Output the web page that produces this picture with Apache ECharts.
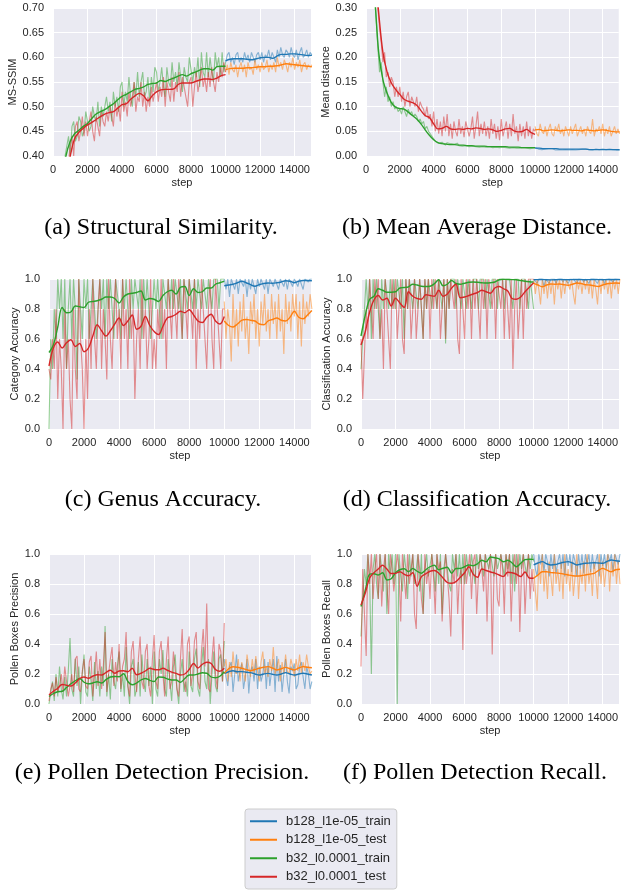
<!DOCTYPE html>
<html>
<head>
<meta charset="utf-8">
<script src="https://cdn.jsdelivr.net/npm/echarts@6.0.0/dist/echarts.min.js"></script>
<style>
  html, body { margin: 0; padding: 0; background: #fff; }
  #chart { width: 621px; height: 890px; }
</style>
</head>
<body>
<div id="chart"></div>
<script>
// series names (legend)
const names = ['b128_l1e-05_train', 'b128_l1e-05_test', 'b32_l0.0001_train', 'b32_l0.0001_test'];
// raw values logged every 100 steps, smoothed values every 250 steps
// b32 run: steps 0..10000, b128 run: steps 10000..15000

// ---- (a) MS-SSIM ----
const aGreenRaw = [0.18, 0.21, 0.25, 0.28, 0.31, 0.34, 0.37, 0.40, 0.42, 0.44,
  0.40, 0.46, 0.47, 0.43, 0.44, 0.48, 0.47, 0.44, 0.45, 0.49,
  0.49, 0.45, 0.46, 0.50, 0.48, 0.47, 0.51, 0.46, 0.50, 0.48,
  0.48, 0.52, 0.49, 0.51, 0.47, 0.53, 0.50, 0.52, 0.49, 0.54,
  0.55, 0.50, 0.53, 0.51, 0.56, 0.52, 0.50, 0.55, 0.52, 0.57,
  0.52, 0.55, 0.57, 0.52, 0.53, 0.56, 0.51, 0.56, 0.53, 0.58,
  0.57, 0.53, 0.55, 0.58, 0.54, 0.52, 0.58, 0.55, 0.54, 0.59,
  0.55, 0.57, 0.54, 0.59, 0.56, 0.53, 0.58, 0.56, 0.55, 0.60,
  0.60, 0.55, 0.58, 0.56, 0.60, 0.54, 0.61, 0.57, 0.56, 0.61,
  0.56, 0.60, 0.57, 0.55, 0.61, 0.58, 0.60, 0.56, 0.61, 0.57, 0.59];
const aRedRaw = [0.15, 0.18, 0.20, 0.23, 0.26, 0.29, 0.32, 0.34, 0.36, 0.39,
  0.42, 0.44, 0.40, 0.46, 0.47, 0.43, 0.45, 0.48, 0.44, 0.47,
  0.44, 0.47, 0.49, 0.45, 0.43, 0.48, 0.46, 0.44, 0.49, 0.47,
  0.46, 0.49, 0.47, 0.50, 0.48, 0.46, 0.51, 0.48, 0.50, 0.47,
  0.53, 0.49, 0.51, 0.48, 0.53, 0.50, 0.52, 0.55, 0.49, 0.52,
  0.51, 0.55, 0.50, 0.53, 0.49, 0.52, 0.50, 0.54, 0.51, 0.53,
  0.55, 0.51, 0.54, 0.52, 0.56, 0.50, 0.55, 0.53, 0.51, 0.56,
  0.51, 0.55, 0.53, 0.57, 0.52, 0.56, 0.54, 0.52, 0.50, 0.55,
  0.56, 0.50, 0.54, 0.57, 0.53, 0.55, 0.58, 0.54, 0.56, 0.53,
  0.57, 0.54, 0.58, 0.55, 0.53, 0.57, 0.55, 0.58, 0.56, 0.59, 0.57];
const aBlueRaw = [0.59, 0.605, 0.61, 0.59, 0.60, 0.585, 0.605, 0.61, 0.59, 0.60,
  0.59, 0.61, 0.595, 0.605, 0.59, 0.61, 0.60, 0.59, 0.605, 0.61,
  0.595, 0.61, 0.59, 0.605, 0.60, 0.615, 0.595, 0.61, 0.60, 0.59,
  0.615, 0.60, 0.62, 0.605, 0.60, 0.615, 0.61, 0.60, 0.62, 0.605,
  0.60, 0.615, 0.595, 0.61, 0.62, 0.60, 0.605, 0.615, 0.60, 0.61, 0.605];
const aOrangeRaw = [0.57, 0.585, 0.565, 0.59, 0.575, 0.57, 0.585, 0.56, 0.58, 0.59,
  0.57, 0.585, 0.56, 0.59, 0.575, 0.58, 0.565, 0.595, 0.575, 0.585,
  0.57, 0.59, 0.575, 0.58, 0.595, 0.57, 0.585, 0.575, 0.59, 0.57,
  0.60, 0.58, 0.59, 0.575, 0.595, 0.585, 0.57, 0.59, 0.58, 0.60,
  0.575, 0.59, 0.58, 0.595, 0.57, 0.585, 0.59, 0.575, 0.585, 0.58, 0.585];
const aGreenSm = [0.20, 0.27, 0.34, 0.40, 0.43, 0.445, 0.452, 0.46, 0.466, 0.476,
  0.485, 0.49, 0.494, 0.50, 0.506, 0.514, 0.521, 0.525, 0.53, 0.535,
  0.537, 0.54, 0.545, 0.547, 0.548, 0.553, 0.551, 0.555, 0.558, 0.562,
  0.565, 0.562, 0.567, 0.570, 0.574, 0.577, 0.577, 0.574, 0.581, 0.582, 0.582];
const aRedSm = [0.15, 0.22, 0.29, 0.35, 0.40, 0.435, 0.448, 0.456, 0.463, 0.468,
  0.474, 0.48, 0.485, 0.488, 0.49, 0.497, 0.504, 0.506, 0.515, 0.522,
  0.527, 0.522, 0.512, 0.522, 0.53, 0.534, 0.535, 0.535, 0.536, 0.545,
  0.548, 0.548, 0.548, 0.551, 0.554, 0.556, 0.556, 0.555, 0.558, 0.563, 0.565];
const aBlueSm = [0.593, 0.596, 0.597, 0.597, 0.597, 0.596, 0.595, 0.597, 0.599, 0.600, 0.600,
  0.598, 0.603, 0.606, 0.606, 0.607, 0.607, 0.606, 0.605, 0.604, 0.604];
const aOrangeSm = [0.575, 0.577, 0.578, 0.578, 0.578, 0.579, 0.579, 0.580, 0.581, 0.581, 0.582,
  0.582, 0.583, 0.585, 0.587, 0.586, 0.585, 0.584, 0.583, 0.582, 0.581];

// ---- (b) Mean distance ----
const bGreenRaw = [0.50, 0.47, 0.44, 0.40, 0.36, 0.32, 0.28, 0.22, 0.17, 0.19,
  0.15, 0.12, 0.14, 0.11, 0.12, 0.10, 0.11, 0.095, 0.10, 0.09,
  0.095, 0.085, 0.10, 0.09, 0.08, 0.095, 0.085, 0.09, 0.08, 0.085,
  0.08, 0.07, 0.075, 0.065, 0.07, 0.055, 0.06, 0.05, 0.045, 0.04,
  0.035, 0.03, 0.028, 0.026, 0.024, 0.028, 0.025, 0.022, 0.027, 0.023,
  0.025, 0.021, 0.024, 0.022, 0.026, 0.021, 0.023, 0.02, 0.024, 0.021,
  0.022, 0.019, 0.023, 0.02, 0.022, 0.019, 0.021, 0.018, 0.022, 0.019,
  0.021, 0.018, 0.02, 0.019, 0.021, 0.017, 0.02, 0.018, 0.021, 0.017,
  0.019, 0.018, 0.02, 0.017, 0.019, 0.016, 0.02, 0.017, 0.018, 0.016,
  0.019, 0.016, 0.018, 0.017, 0.019, 0.016, 0.018, 0.015, 0.018, 0.016, 0.016];
const bRedRaw = [0.55, 0.52, 0.48, 0.45, 0.41, 0.37, 0.34, 0.30, 0.26, 0.23,
  0.19, 0.21, 0.16, 0.17, 0.14, 0.16, 0.15, 0.12, 0.14, 0.12,
  0.14, 0.11, 0.13, 0.10, 0.12, 0.13, 0.10, 0.12, 0.11, 0.10,
  0.12, 0.09, 0.11, 0.10, 0.095, 0.08, 0.10, 0.075, 0.085, 0.06,
  0.09, 0.05, 0.075, 0.045, 0.07, 0.04, 0.08, 0.05, 0.085, 0.04,
  0.065, 0.035, 0.07, 0.05, 0.04, 0.075, 0.045, 0.06, 0.038, 0.07,
  0.07, 0.04, 0.055, 0.08, 0.035, 0.06, 0.09, 0.04, 0.065, 0.045,
  0.07, 0.04, 0.06, 0.035, 0.075, 0.045, 0.065, 0.035, 0.06, 0.032,
  0.075, 0.04, 0.055, 0.07, 0.035, 0.065, 0.04, 0.085, 0.045, 0.06,
  0.03, 0.065, 0.04, 0.06, 0.035, 0.07, 0.04, 0.06, 0.035, 0.055, 0.05];
const bBlueRaw = [0.017, 0.015, 0.014, 0.016, 0.013, 0.016, 0.014, 0.013, 0.015, 0.013,
  0.015, 0.014, 0.012, 0.015, 0.013, 0.014, 0.012, 0.015, 0.013, 0.014,
  0.012, 0.014, 0.013, 0.015, 0.012, 0.014, 0.013, 0.012, 0.014, 0.012,
  0.014, 0.011, 0.013, 0.014, 0.012, 0.013, 0.014, 0.011, 0.013, 0.012,
  0.014, 0.012, 0.013, 0.011, 0.014, 0.012, 0.013, 0.014, 0.012, 0.013, 0.012];
const bOrangeRaw = [0.06, 0.045, 0.04, 0.065, 0.05, 0.045, 0.06, 0.04, 0.055, 0.065,
  0.045, 0.04, 0.06, 0.05, 0.065, 0.045, 0.055, 0.04, 0.06, 0.05,
  0.04, 0.06, 0.045, 0.055, 0.065, 0.04, 0.05, 0.06, 0.045, 0.055,
  0.04, 0.06, 0.05, 0.045, 0.075, 0.04, 0.055, 0.05, 0.06, 0.045,
  0.065, 0.04, 0.055, 0.045, 0.06, 0.04, 0.05, 0.06, 0.045, 0.055, 0.045];
const bGreenSm = [0.50, 0.42, 0.33, 0.21, 0.155, 0.127, 0.108, 0.099, 0.096, 0.095,
  0.089, 0.082, 0.075, 0.065, 0.053, 0.042, 0.033, 0.027, 0.025, 0.024,
  0.023, 0.023, 0.022, 0.022, 0.021, 0.021, 0.020, 0.020, 0.020, 0.019,
  0.019, 0.019, 0.019, 0.019, 0.018, 0.018, 0.018, 0.017, 0.017, 0.017, 0.017];
const bRedSm = [0.55, 0.47, 0.38, 0.29, 0.21, 0.17, 0.148, 0.135, 0.125, 0.115,
  0.111, 0.108, 0.103, 0.092, 0.082, 0.078, 0.065, 0.055, 0.056, 0.060,
  0.055, 0.054, 0.055, 0.054, 0.056, 0.055, 0.057, 0.056, 0.054, 0.055,
  0.053, 0.050, 0.052, 0.055, 0.056, 0.051, 0.049, 0.050, 0.054, 0.048, 0.044];
const bBlueSm = [0.016, 0.016, 0.015, 0.015, 0.015, 0.015, 0.014, 0.014, 0.014, 0.014, 0.014,
  0.014, 0.014, 0.013, 0.013, 0.013, 0.013, 0.013, 0.013, 0.013, 0.013];
const bOrangeSm = [0.053, 0.054, 0.051, 0.052, 0.053, 0.052, 0.051, 0.052, 0.053, 0.052, 0.052,
  0.051, 0.053, 0.052, 0.051, 0.052, 0.053, 0.052, 0.050, 0.049, 0.049];

// ---- (c) Category accuracy ----
const cGreenRaw = [0.0, 0.6, 0.4, 0.8, 0.6, 1.0, 0.8, 1.0, 0.6, 1.0,
  0.4, 0.8, 1.0, 0.6, 1.0, 0.8, 0.33, 1.0, 0.8, 0.6,
  1.0, 0.8, 1.0, 0.6, 0.8, 1.0, 1.0, 0.6, 0.8, 1.0,
  0.8, 1.0, 0.6, 1.0, 0.8, 1.0, 0.8, 0.6, 1.0, 1.0,
  0.8, 0.6, 1.0, 0.8, 1.0, 1.0, 0.6, 1.0, 0.8, 1.0,
  1.0, 0.8, 1.0, 0.6, 1.0, 0.8, 1.0, 1.0, 0.6, 0.8,
  1.0, 0.8, 1.0, 0.8, 0.6, 1.0, 1.0, 0.8, 1.0, 0.8,
  1.0, 0.8, 1.0, 1.0, 0.8, 1.0, 0.6, 1.0, 1.0, 0.8,
  1.0, 1.0, 0.8, 1.0, 0.8, 1.0, 1.0, 0.8, 1.0, 1.0,
  0.8, 1.0, 1.0, 0.8, 1.0, 1.0, 1.0, 0.8, 1.0, 1.0, 1.0];
const cRedRaw = [0.4, 0.33, 0.6, 0.4, 0.8, 0.2, 0.6, 0.4, 0.0, 0.8,
  0.4, 0.6, 0.2, 0.0, 0.8, 0.4, 0.2, 1.0, 0.6, 0.4,
  0.0, 0.6, 0.2, 0.8, 0.4, 1.0, 0.6, 0.4, 0.8, 1.0,
  0.4, 0.8, 0.6, 0.33, 1.0, 0.6, 0.4, 0.8, 1.0, 0.6,
  0.8, 0.4, 1.0, 0.6, 0.8, 0.4, 1.0, 0.6, 0.8, 0.2,
  0.6, 0.8, 0.4, 1.0, 0.6, 0.8, 0.4, 0.6, 1.0, 0.4,
  0.6, 0.4, 0.8, 0.6, 1.0, 0.6, 0.8, 0.4, 1.0, 0.8,
  0.6, 1.0, 0.8, 0.6, 1.0, 0.8, 0.6, 1.0, 0.8, 0.6,
  1.0, 0.8, 0.6, 1.0, 0.4, 0.8, 0.6, 1.0, 0.8, 0.6,
  0.4, 0.8, 1.0, 0.6, 0.4, 1.0, 0.8, 0.6, 0.4, 0.8, 0.8];
const cBlueRaw = [1.0, 0.93, 1.0, 0.88, 1.0, 1.0, 0.93, 1.0, 0.9, 1.0,
  1.0, 0.95, 1.0, 0.88, 1.0, 0.93, 1.0, 1.0, 0.9, 1.0,
  0.95, 1.0, 1.0, 0.93, 1.0, 0.9, 1.0, 1.0, 0.95, 1.0,
  1.0, 0.93, 1.0, 1.0, 0.95, 1.0, 0.93, 1.0, 1.0, 0.95,
  1.0, 1.0, 0.95, 1.0, 1.0, 0.93, 1.0, 1.0, 0.98, 1.0, 1.0];
const cOrangeRaw = [0.85, 0.6, 0.8, 0.7, 0.45, 0.9, 0.6, 0.8, 0.55, 0.85,
  0.65, 0.9, 0.6, 0.75, 0.5, 0.85, 0.7, 0.9, 0.6, 0.8,
  0.55, 0.85, 0.7, 0.9, 0.65, 0.8, 0.6, 0.9, 0.7, 0.85,
  0.6, 0.9, 0.65, 0.8, 0.5, 0.9, 0.7, 0.85, 0.65, 0.9,
  0.75, 0.9, 0.6, 0.85, 0.55, 0.9, 0.7, 0.85, 0.75, 0.9, 0.8];
const cGreenSm = [0.51, 0.56, 0.68, 0.81, 0.775, 0.78, 0.82, 0.815, 0.81, 0.845,
  0.85, 0.855, 0.865, 0.88, 0.88, 0.87, 0.84, 0.88, 0.90, 0.905,
  0.91, 0.92, 0.86, 0.87, 0.865, 0.85, 0.89, 0.915, 0.925, 0.90,
  0.945, 0.95, 0.89, 0.935, 0.91, 0.915, 0.94, 0.94, 0.965, 0.975, 0.985];
const cRedSm = [0.42, 0.54, 0.58, 0.54, 0.575, 0.595, 0.55, 0.57, 0.515, 0.54,
  0.62, 0.695, 0.655, 0.62, 0.655, 0.70, 0.74, 0.69, 0.72, 0.76,
  0.665, 0.685, 0.75, 0.69, 0.65, 0.63, 0.685, 0.74, 0.75, 0.765,
  0.785, 0.775, 0.795, 0.76, 0.72, 0.71, 0.745, 0.765, 0.72, 0.70, 0.75];
const cBlueSm = [0.955, 0.96, 0.965, 0.975, 0.985, 0.975, 0.962, 0.952, 0.962, 0.97, 0.973,
  0.972, 0.975, 0.98, 0.988, 0.985, 0.975, 0.985, 0.99, 0.99, 0.988];
const cOrangeSm = [0.72, 0.69, 0.68, 0.70, 0.725, 0.73, 0.725, 0.72, 0.70, 0.695, 0.72,
  0.73, 0.74, 0.725, 0.72, 0.745, 0.785, 0.745, 0.735, 0.76, 0.79];

// ---- (d) Classification accuracy ----
const dGreenRaw = [0.4, 0.6, 0.8, 1.0, 0.8, 1.0, 0.6, 1.0, 0.8, 1.0,
  1.0, 0.6, 1.0, 0.8, 1.0, 1.0, 0.8, 1.0, 0.8, 1.0,
  0.8, 1.0, 1.0, 0.8, 1.0, 0.6, 1.0, 0.8, 1.0, 1.0,
  0.8, 1.0, 1.0, 0.8, 1.0, 1.0, 0.6, 1.0, 0.8, 1.0,
  1.0, 0.8, 1.0, 1.0, 0.8, 1.0, 1.0, 0.8, 1.0, 0.57,
  1.0, 0.8, 1.0, 1.0, 1.0, 0.8, 1.0, 1.0, 0.8, 1.0,
  1.0, 0.8, 1.0, 1.0, 0.8, 1.0, 1.0, 1.0, 0.8, 1.0,
  1.0, 1.0, 0.8, 1.0, 1.0, 0.8, 1.0, 1.0, 1.0, 0.8,
  1.0, 1.0, 1.0, 0.8, 1.0, 1.0, 1.0, 1.0, 0.8, 1.0,
  1.0, 1.0, 0.8, 1.0, 1.0, 1.0, 1.0, 0.8, 1.0, 1.0, 0.8];
const dRedRaw = [0.6, 0.2, 0.2, 0.8, 0.6, 1.0, 0.8, 0.6, 1.0, 0.8,
  1.0, 0.6, 0.8, 0.4, 1.0, 0.8, 0.6, 0.4, 1.0, 0.8,
  1.0, 0.6, 0.8, 1.0, 0.6, 0.5, 1.0, 0.8, 1.0, 0.6,
  0.8, 1.0, 0.6, 0.8, 1.0, 0.8, 0.6, 1.0, 0.8, 1.0,
  0.6, 1.0, 0.8, 1.0, 0.8, 1.0, 0.6, 0.8, 1.0, 0.6,
  1.0, 0.8, 1.0, 1.0, 0.8, 1.0, 0.6, 0.5, 1.0, 0.8,
  0.6, 1.0, 0.8, 1.0, 0.6, 1.0, 0.8, 1.0, 0.8, 0.6,
  1.0, 0.8, 1.0, 0.6, 1.0, 1.0, 0.8, 1.0, 0.6, 1.0,
  1.0, 0.8, 1.0, 0.6, 1.0, 0.8, 0.6, 1.0, 0.4, 0.8,
  1.0, 0.6, 0.8, 1.0, 0.6, 1.0, 0.8, 1.0, 1.0, 1.0, 1.0];
const dBlueRaw = [1.0, 1.0, 0.97, 1.0, 1.0, 1.0, 0.95, 1.0, 1.0, 0.97,
  1.0, 1.0, 1.0, 0.97, 1.0, 1.0, 1.0, 0.98, 1.0, 1.0,
  0.97, 1.0, 1.0, 1.0, 1.0, 0.97, 1.0, 1.0, 1.0, 0.98,
  1.0, 1.0, 0.97, 1.0, 1.0, 1.0, 1.0, 0.97, 1.0, 1.0,
  1.0, 0.97, 1.0, 1.0, 1.0, 1.0, 0.98, 1.0, 1.0, 1.0, 1.0];
const dOrangeRaw = [1.0, 0.9, 1.0, 0.93, 0.83, 1.0, 0.9, 1.0, 0.87, 1.0,
  0.9, 1.0, 0.83, 1.0, 0.93, 1.0, 0.87, 1.0, 0.9, 1.0,
  1.0, 0.93, 1.0, 0.9, 0.83, 1.0, 0.93, 1.0, 0.9, 1.0,
  0.93, 1.0, 0.9, 1.0, 0.87, 1.0, 0.93, 0.83, 1.0, 0.9,
  1.0, 0.93, 1.0, 0.9, 1.0, 0.87, 1.0, 0.93, 1.0, 0.9, 1.0];
const dGreenSm = [0.62, 0.76, 0.865, 0.885, 0.935, 0.925, 0.912, 0.912, 0.915, 0.94,
  0.943, 0.948, 0.965, 0.96, 0.952, 0.95, 0.952, 0.968, 0.995, 0.955,
  0.965, 0.99, 0.97, 0.965, 0.972, 0.978, 0.98, 0.978, 0.975, 0.973,
  0.975, 0.98, 0.995, 0.998, 0.997, 0.996, 0.995, 0.99, 0.985, 0.982, 0.98];
const dRedSm = [0.56, 0.65, 0.78, 0.86, 0.89, 0.86, 0.872, 0.82, 0.872, 0.84,
  0.81, 0.915, 0.885, 0.87, 0.865, 0.895, 0.89, 0.885, 0.925, 0.885,
  0.90, 0.94, 0.965, 0.875, 0.88, 0.89, 0.90, 0.91, 0.925, 0.915,
  0.905, 0.94, 0.95, 0.935, 0.92, 0.87, 0.865, 0.88, 0.915, 0.945, 0.975];
const dBlueSm = [0.995, 0.996, 0.997, 0.995, 0.994, 0.995, 0.997, 0.996, 0.995, 0.996, 0.997,
  0.996, 0.995, 0.996, 0.997, 0.996, 0.995, 0.996, 0.997, 0.997, 0.996];
const dOrangeSm = [0.973, 0.96, 0.948, 0.96, 0.967, 0.965, 0.967, 0.962, 0.958, 0.965, 0.973,
  0.97, 0.962, 0.96, 0.955, 0.95, 0.96, 0.968, 0.972, 0.973, 0.972];

// ---- (e) Pollen boxes precision ----
const eGreenRaw = [0.0, 0.08, 0.15, 0.02, 0.2, 0.05, 0.25, 0.1, 0.03, 0.18,
  0.05, 0.22, 0.44, 0.1, 0.05, 0.3, 0.12, 0.25, 0.0, 0.2,
  0.33, 0.08, 0.05, 0.25, 0.15, 0.02, 0.28, 0.1, 0.22, 0.05,
  0.25, 0.12, 0.52, 0.05, 0.2, 0.03, 0.3, 0.15, 0.1, 0.25,
  0.35, 0.08, 0.2, 0.05, 0.38, 0.12, 0.0, 0.25, 0.3, 0.05,
  0.1, 0.28, 0.05, 0.33, 0.15, 0.08, 0.3, 0.12, 0.25, 0.0,
  0.35, 0.1, 0.05, 0.3, 0.2, 0.36, 0.1, 0.05, 0.3, 0.15,
  0.02, 0.25, 0.33, 0.1, 0.0, 0.2, 0.3, 0.08, 0.15, 0.05,
  0.35, 0.12, 0.08, 0.3, 0.37, 0.1, 0.05, 0.25, 0.38, 0.15,
  0.1, 0.3, 0.0, 0.2, 0.35, 0.12, 0.08, 0.3, 0.33, 0.15, 0.42];
const eRedRaw = [0.02, 0.1, 0.14, 0.05, 0.18, 0.08, 0.12, 0.2, 0.08, 0.25,
  0.25, 0.05, 0.12, 0.2, 0.08, 0.3, 0.32, 0.1, 0.08, 0.22,
  0.3, 0.12, 0.1, 0.28, 0.32, 0.05, 0.2, 0.35, 0.12, 0.3,
  0.1, 0.25, 0.48, 0.08, 0.2, 0.3, 0.38, 0.12, 0.28, 0.15,
  0.4, 0.1, 0.25, 0.3, 0.48, 0.12, 0.05, 0.35, 0.42, 0.2,
  0.08, 0.3, 0.45, 0.15, 0.1, 0.35, 0.4, 0.12, 0.05, 0.3,
  0.46, 0.15, 0.1, 0.35, 0.42, 0.2, 0.05, 0.3, 0.45, 0.1,
  0.15, 0.35, 0.36, 0.1, 0.05, 0.3, 0.5, 0.15, 0.08, 0.4,
  0.45, 0.12, 0.2, 0.42, 0.48, 0.15, 0.1, 0.35, 0.5, 0.25,
  0.67, 0.1, 0.08, 0.3, 0.45, 0.2, 0.1, 0.4, 0.35, 0.15, 0.54];
const eBlueRaw = [0.3, 0.18, 0.12, 0.25, 0.28, 0.08, 0.2, 0.33, 0.15, 0.22,
  0.27, 0.1, 0.18, 0.3, 0.07, 0.22, 0.25, 0.15, 0.3, 0.1,
  0.25, 0.15, 0.2, 0.3, 0.1, 0.28, 0.12, 0.22, 0.3, 0.08,
  0.32, 0.15, 0.26, 0.08, 0.2, 0.3, 0.15, 0.07, 0.25, 0.22,
  0.27, 0.1, 0.13, 0.25, 0.28, 0.18, 0.1, 0.25, 0.2, 0.1, 0.15];
const eOrangeRaw = [0.25, 0.3, 0.15, 0.28, 0.18, 0.35, 0.22, 0.2, 0.3, 0.15,
  0.28, 0.22, 0.15, 0.33, 0.25, 0.18, 0.3, 0.2, 0.32, 0.22,
  0.15, 0.28, 0.35, 0.2, 0.25, 0.18, 0.3, 0.22, 0.38, 0.2,
  0.25, 0.3, 0.15, 0.28, 0.2, 0.33, 0.22, 0.2, 0.3, 0.25,
  0.18, 0.3, 0.22, 0.33, 0.2, 0.28, 0.22, 0.33, 0.25, 0.2, 0.22];
const eGreenSm = [0.05, 0.07, 0.082, 0.085, 0.11, 0.135, 0.155, 0.17, 0.145, 0.135,
  0.14, 0.148, 0.14, 0.162, 0.18, 0.183, 0.182, 0.202, 0.15, 0.128,
  0.14, 0.16, 0.17, 0.158, 0.15, 0.18, 0.178, 0.168, 0.16, 0.16,
  0.145, 0.17, 0.193, 0.193, 0.2, 0.208, 0.205, 0.18, 0.175, 0.185, 0.215];
const eRedSm = [0.06, 0.085, 0.105, 0.13, 0.125, 0.12, 0.14, 0.17, 0.18, 0.172,
  0.185, 0.195, 0.193, 0.21, 0.225, 0.205, 0.22, 0.222, 0.215, 0.238,
  0.195, 0.205, 0.22, 0.238, 0.23, 0.228, 0.238, 0.225, 0.212, 0.204,
  0.193, 0.2, 0.23, 0.27, 0.24, 0.265, 0.278, 0.27, 0.23, 0.218, 0.238];
const eBlueSm = [0.204, 0.215, 0.222, 0.215, 0.216, 0.212, 0.209, 0.2, 0.193, 0.2, 0.204,
  0.198, 0.193, 0.2, 0.209, 0.2, 0.193, 0.2, 0.205, 0.2, 0.193];
const eOrangeSm = [0.204, 0.235, 0.248, 0.245, 0.238, 0.23, 0.222, 0.23, 0.238, 0.245, 0.249,
  0.24, 0.227, 0.235, 0.244, 0.235, 0.227, 0.24, 0.249, 0.245, 0.242];

// ---- (f) Pollen boxes recall ----
const fGreenRaw = [0.45, 0.7, 0.9, 0.8, 1.0, 0.85, 0.2, 0.9, 1.0, 0.8,
  0.7, 1.0, 0.9, 0.75, 1.0, 0.6, 1.0, 0.85, 1.0, 0.8,
  1.0, 0.0, 1.0, 0.85, 0.75, 1.0, 0.9, 0.7, 1.0, 0.85,
  1.0, 0.8, 0.9, 1.0, 0.75, 1.0, 0.6, 0.9, 1.0, 0.85,
  0.85, 1.0, 0.9, 0.75, 1.0, 0.8, 1.0, 0.6, 0.9, 1.0,
  1.0, 0.8, 0.75, 1.0, 0.9, 1.0, 0.85, 1.0, 0.8, 1.0,
  0.8, 1.0, 0.9, 0.85, 1.0, 1.0, 0.8, 1.0, 0.9, 1.0,
  1.0, 0.85, 1.0, 1.0, 0.9, 1.0, 1.0, 0.85, 1.0, 0.9,
  0.95, 1.0, 1.0, 0.85, 1.0, 0.9, 1.0, 0.8, 1.0, 0.75,
  1.0, 0.85, 1.0, 0.9, 1.0, 1.0, 0.85, 1.0, 0.9, 1.0, 0.95];
const fRedRaw = [0.25, 0.9, 0.6, 0.32, 1.0, 0.8, 1.0, 0.7, 0.9, 1.0,
  0.7, 1.0, 0.65, 0.9, 1.0, 0.8, 0.6, 1.0, 0.9, 0.75,
  0.75, 1.0, 0.9, 0.55, 1.0, 0.85, 0.7, 1.0, 0.8, 0.9,
  1.0, 0.6, 0.5, 1.0, 0.9, 0.7, 0.6, 1.0, 0.8, 0.9,
  0.7, 1.0, 0.85, 0.6, 1.0, 0.9, 0.95, 0.55, 0.8, 1.0,
  1.0, 0.7, 0.45, 0.9, 0.8, 1.0, 0.6, 0.85, 0.9, 0.36,
  1.0, 0.8, 0.9, 1.0, 0.7, 0.95, 1.0, 0.6, 0.85, 1.0,
  0.9, 0.75, 1.0, 0.55, 0.9, 1.0, 0.33, 0.85, 1.0, 0.7,
  0.65, 1.0, 0.9, 0.6, 1.0, 0.85, 1.0, 0.55, 0.9, 1.0,
  0.8, 1.0, 0.48, 0.9, 1.0, 0.6, 0.85, 1.0, 0.7, 0.9, 0.75];
const fBlueRaw = [1.0, 0.9, 0.85, 1.0, 0.93, 1.0, 0.88, 1.0, 0.95, 0.85,
  1.0, 0.9, 1.0, 0.87, 0.95, 1.0, 0.9, 1.0, 0.85, 1.0,
  0.92, 1.0, 0.88, 1.0, 0.95, 0.85, 1.0, 0.9, 1.0, 0.87,
  1.0, 0.93, 1.0, 0.88, 1.0, 0.9, 0.95, 1.0, 0.85, 1.0,
  0.92, 1.0, 0.9, 1.0, 0.95, 1.0, 0.88, 1.0, 1.0, 0.93, 1.0];
const fOrangeRaw = [0.9, 0.75, 0.62, 0.95, 0.8, 1.0, 0.75, 0.9, 0.7, 0.95,
  0.85, 0.72, 1.0, 0.8, 0.9, 0.75, 0.95, 0.7, 1.0, 0.8,
  0.9, 0.75, 0.95, 0.72, 0.85, 1.0, 0.7, 0.9, 0.8, 0.95,
  0.75, 1.0, 0.8, 0.9, 0.72, 0.95, 0.85, 0.7, 1.0, 0.8,
  0.95, 0.78, 0.9, 1.0, 0.75, 0.95, 0.85, 1.0, 0.8, 0.95, 0.8];
const fGreenSm = [0.65, 0.76, 0.865, 0.868, 0.86, 0.875, 0.827, 0.835, 0.875, 0.895,
  0.902, 0.882, 0.903, 0.885, 0.872, 0.895, 0.915, 0.925, 0.895, 0.905,
  0.912, 0.872, 0.903, 0.904, 0.915, 0.927, 0.922, 0.935, 0.958, 0.948,
  0.98, 0.975, 0.968, 0.948, 0.958, 0.94, 0.915, 0.938, 0.962, 0.965, 0.964];
const fRedSm = [0.66, 0.74, 0.84, 0.875, 0.9, 0.925, 0.9, 0.87, 0.871, 0.882,
  0.865, 0.855, 0.875, 0.785, 0.849, 0.868, 0.885, 0.89, 0.872, 0.84,
  0.81, 0.805, 0.816, 0.845, 0.875, 0.915, 0.865, 0.845, 0.9, 0.89,
  0.88, 0.872, 0.86, 0.85, 0.878, 0.875, 0.865, 0.85, 0.88, 0.84, 0.838];
const fBlueSm = [0.927, 0.94, 0.949, 0.935, 0.927, 0.93, 0.938, 0.945, 0.949, 0.94, 0.927,
  0.933, 0.938, 0.94, 0.942, 0.94, 0.938, 0.95, 0.96, 0.955, 0.952];
const fOrangeSm = [0.838, 0.86, 0.882, 0.882, 0.876, 0.874, 0.871, 0.866, 0.86, 0.855, 0.853,
  0.855, 0.86, 0.866, 0.871, 0.89, 0.904, 0.892, 0.882, 0.895, 0.898];

// x positions (steps) of the logged points
function range(from, to, step) {
  const out = [];
  for (let s = from; s <= to; s += step) out.push(s);
  return out;
}
const rawStepsA = range(0, 10000, 100);
const rawStepsB = range(10000, 15000, 100);
const smStepsA = range(0, 10000, 250);
const smStepsB = range(10000, 15000, 250);

const colors = ['#1f77b4', '#ff7f0e', '#2ca02c', '#d62728'];

const panels = [
  { left: 53, top: 8, width: 258, height: 148, yMin: 0.40, yMax: 0.70, yStep: 0.05, dec: 2, yName: 'MS-SSIM', gap: 26,
    cap: '(a) Structural Similarity.', capX: 161, capY: 228,
    lines: [aBlueRaw, aOrangeRaw, aGreenRaw, aRedRaw, aBlueSm, aOrangeSm, aGreenSm, aRedSm] },
  { left: 366, top: 8, width: 258, height: 148, yMin: 0, yMax: 0.30, yStep: 0.05, dec: 2, yName: 'Mean distance', gap: 28,
    cap: '(b) Mean Average Distance.', capX: 477, capY: 228,
    lines: [bBlueRaw, bOrangeRaw, bGreenRaw, bRedRaw, bBlueSm, bOrangeSm, bGreenSm, bRedSm] },
  { left: 49, top: 279, width: 262, height: 150, yMin: 0, yMax: 1, yStep: 0.2, dec: 1, yName: 'Category Accuracy', gap: 24,
    cap: '(c) Genus Accuracy.', capX: 163, capY: 500,
    lines: [cBlueRaw, cOrangeRaw, cGreenRaw, cRedRaw, cBlueSm, cOrangeSm, cGreenSm, cRedSm] },
  { left: 361, top: 279, width: 262, height: 150, yMin: 0, yMax: 1, yStep: 0.2, dec: 1, yName: 'Classification Accuracy', gap: 24,
    cap: '(d) Classification Accuracy.', capX: 477, capY: 500,
    lines: [dBlueRaw, dOrangeRaw, dGreenRaw, dRedRaw, dBlueSm, dOrangeSm, dGreenSm, dRedSm] },
  { left: 49, top: 554, width: 262, height: 150, yMin: 0, yMax: 1, yStep: 0.2, dec: 1, yName: 'Pollen Boxes Precision', gap: 26,
    cap: '(e) Pollen Detection Precision.', capX: 162, capY: 773,
    lines: [eBlueRaw, eOrangeRaw, eGreenRaw, eRedRaw, eBlueSm, eOrangeSm, eGreenSm, eRedSm] },
  { left: 361, top: 554, width: 262, height: 150, yMin: 0, yMax: 1, yStep: 0.2, dec: 1, yName: 'Pollen Boxes Recall', gap: 24,
    cap: '(f) Pollen Detection Recall.', capX: 475, capY: 773,
    lines: [fBlueRaw, fOrangeRaw, fGreenRaw, fRedRaw, fBlueSm, fOrangeSm, fGreenSm, fRedSm] }
];

const font = 'Liberation Sans, Arial, sans-serif';
const grids = [], xAxes = [], yAxes = [], series = [], graphics = [];

panels.forEach((p, i) => {
  grids.push({ left: p.left, top: p.top, width: p.width, height: p.height,
    backgroundColor: '#eaeaf2', show: true, borderWidth: 0, containLabel: false });
  xAxes.push({
    type: 'value', gridIndex: i, min: 0, max: 14950, interval: 2000,
    name: 'step', nameLocation: 'middle', nameGap: 21,
    nameTextStyle: { fontSize: 11, color: '#262626', fontFamily: font },
    axisLine: { show: false }, axisTick: { show: false },
    axisLabel: { fontSize: 11, color: '#262626', margin: 8, fontFamily: font, showMaxLabel: false,
      formatter: v => (v % 2000 === 0 ? String(v) : '') },
    splitLine: { show: true, lineStyle: { color: '#fff', width: 1 } }
  });
  yAxes.push({
    type: 'value', gridIndex: i, min: p.yMin, max: p.yMax, interval: p.yStep,
    name: p.yName, nameLocation: 'middle', nameGap: p.gap,
    nameTextStyle: { fontSize: 11, color: '#262626', fontFamily: font },
    axisLine: { show: false }, axisTick: { show: false },
    axisLabel: { fontSize: 11, color: '#262626', margin: 9, fontFamily: font,
      formatter: v => v.toFixed(p.dec) },
    splitLine: { show: true, lineStyle: { color: '#fff', width: 1 } }
  });
  // raw traces first (faded), then smoothed traces on top
  p.lines.forEach((vals, k) => {
    const c = k % 4;
    const raw = k < 4;
    const steps = raw ? (c < 2 ? rawStepsB : rawStepsA) : (c < 2 ? smStepsB : smStepsA);
    series.push({
      type: 'line',
      name: raw ? names[c] + ' raw' : names[c],
      xAxisIndex: i, yAxisIndex: i,
      data: steps.map((s, j) => [s, vals[j]]),
      symbol: 'none', showSymbol: false,
      smooth: raw ? false : 0.35,
      clip: true, silent: true,
      lineStyle: { color: colors[c], width: raw ? 1.1 : 1.4, opacity: raw ? 0.5 : 1 },
      itemStyle: { color: colors[c] },
      z: raw ? 2 : 3
    });
  });
  graphics.push({
    type: 'text', x: p.capX, y: p.capY,
    style: { text: p.cap, x: 0, y: 0, align: 'center', verticalAlign: 'middle',
      fontFamily: 'Liberation Serif, Times New Roman, serif', fontSize: 24, fill: '#000' }
  });
});

const chart = echarts.init(document.getElementById('chart'), null, { renderer: 'canvas' });
chart.setOption({
  animation: false,
  backgroundColor: '#fff',
  textStyle: { fontFamily: font },
  grid: grids,
  xAxis: xAxes,
  yAxis: yAxes,
  series: series,
  graphic: graphics,
  legend: {
    data: names,
    orient: 'vertical',
    left: 245, top: 809,
    icon: 'rect', itemWidth: 27, itemHeight: 2, itemGap: 4,
    backgroundColor: '#eaeaf2', borderColor: '#cccccc', borderWidth: 1, borderRadius: 3,
    padding: [5, 6, 5, 5],
    textStyle: { fontSize: 13, color: '#262626', fontFamily: font, lineHeight: 14.5, padding: [0, 0, 0, 4] },
    selectedMode: false
  }
});
</script>
</body>
</html>
